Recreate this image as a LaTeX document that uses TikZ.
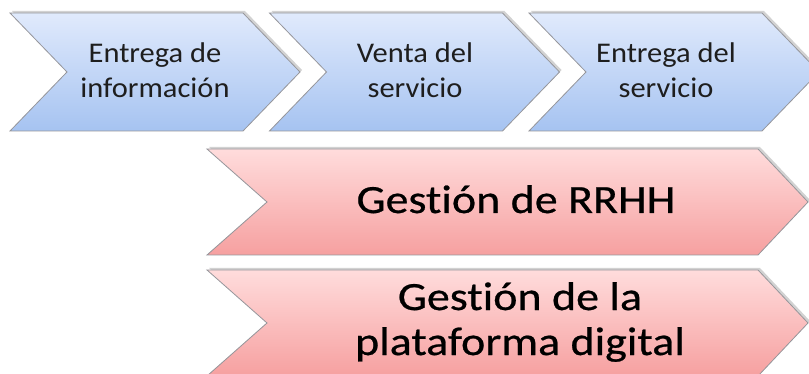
\documentclass[tikz,border=0pt]{standalone}
\usepackage{fontspec}
\setmainfont[Ligatures=NoCommon]{Carlito}
\newfontfamily\bluefont[FakeStretch=1.07,Ligatures=NoCommon]{Carlito}
\newfontfamily\pinkfont[FakeStretch=1.15,FakeBold=0.6,Ligatures=NoCommon]{Carlito}
\usetikzlibrary{shadows}
\definecolor{bluetop}{RGB}{224,234,252}
\definecolor{bluebot}{RGB}{166,195,241}
\definecolor{pinktop}{RGB}{255,220,220}
\definecolor{pinkbot}{RGB}{246,160,160}
\definecolor{edgegray}{RGB}{150,150,155}
\definecolor{txt}{RGB}{30,30,30}
\tikzset{
  bluechev/.style={draw=edgegray, line width=0.8pt, top color=bluetop, bottom color=bluebot,
    drop shadow={shadow xshift=2pt, shadow yshift=2pt, opacity=0.35}},
  pinkchev/.style={draw=edgegray, line width=0.8pt, top color=pinktop, bottom color=pinkbot,
    drop shadow={shadow xshift=2pt, shadow yshift=2pt, opacity=0.35}},
  bluetext/.style={font=\bluefont\fontsize{28.5}{35}\selectfont, text=txt, align=center, inner sep=0pt},
  pinktext/.style={font=\pinkfont\fontsize{40}{45}\selectfont, text=black, align=center, inner sep=0pt}
}
\begin{document}
\begin{tikzpicture}[x=1pt,y=-1pt]
\useasboundingbox (0,0) rectangle (809,374);
\fill[white] (0,0) rectangle (809,374);
% blue chevrons
\foreach \L in {10,269.5,529}{
  \path[bluechev] (\L,13) -- (\L+233,13) -- (\L+290,72) -- (\L+233,131) -- (\L,131) -- (\L+57,72) -- cycle;
}
\node[bluetext, anchor=base] (t1) at (155,98) {Entrega de\\información};
\node[bluetext, anchor=base] (t2) at (415,98) {Venta del\\servicio};
\node[bluetext, anchor=base] (t3) at (666,98) {Entrega del\\servicio};
% pink bars
\path[pinkchev] (207,149) -- (758,149) -- (808,202) -- (758,255) -- (207,255) -- (267,202) -- cycle;
\path[pinkchev] (207,270) -- (758,270) -- (808,323) -- (758,376) -- (207,376) -- (267,323) -- cycle;
\node[pinktext, anchor=base] (p1) at (516,213) {Gestión de RRHH};
\node[pinktext, anchor=base] (p2) at (520,355) {Gestión de la\\plataforma digital};
\end{tikzpicture}
\end{document}
